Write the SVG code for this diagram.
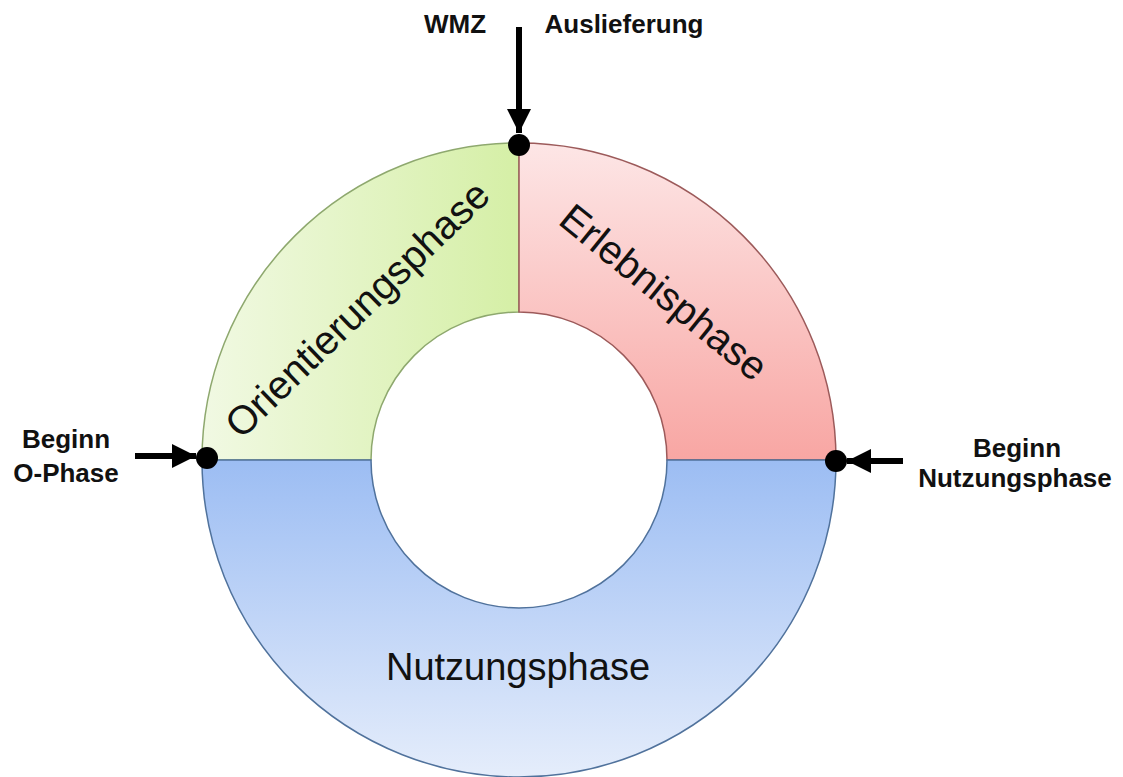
<svg xmlns="http://www.w3.org/2000/svg" width="1123" height="777" viewBox="0 0 1123 777">
<defs>
<linearGradient id="gGreen" x1="0" y1="0" x2="1" y2="0">
<stop offset="0" stop-color="#f1f9e3"/>
<stop offset="1" stop-color="#d5efa6"/>
</linearGradient>
<linearGradient id="gPink" x1="0" y1="0" x2="0" y2="1">
<stop offset="0" stop-color="#fde6e6"/>
<stop offset="1" stop-color="#f8a6a3"/>
</linearGradient>
<linearGradient id="gBlue" x1="0" y1="0" x2="0" y2="1">
<stop offset="0" stop-color="#9cbdf3"/>
<stop offset="1" stop-color="#e5edfb"/>
</linearGradient>
<marker id="ah" viewBox="0 0 10 10" refX="10" refY="5" markerWidth="4" markerHeight="4" orient="auto" markerUnits="strokeWidth">
<path d="M0,0 L10,5 L0,10 Z" fill="#000"/>
</marker>
</defs>
<style>
.lbl{font-family:"Liberation Sans",Arial,sans-serif;font-weight:bold;font-size:26px;fill:#111;text-anchor:middle}
.ph{font-family:"Liberation Sans",Arial,sans-serif;font-size:40px;fill:#111;text-anchor:middle}
.arr{stroke:#000;stroke-width:6;fill:none;marker-end:url(#ah)}
.dot{fill:#000}
</style>
<rect width="1123" height="777" fill="#fff"/>
<g id="orientierungsphase">
<path d="M 202 460 A 317 317 0 0 1 519 143 L 519 312 A 148 148 0 0 0 371 460 Z" fill="url(#gGreen)" stroke="#8ea86e" stroke-width="1.5"/>
<text class="ph" transform="translate(357,309) rotate(-44)" dy="14">Orientierungsphase</text>
</g>
<g id="erlebnisphase">
<path d="M 519 143 A 317 317 0 0 1 836 460 L 667 460 A 148 148 0 0 0 519 312 Z" fill="url(#gPink)" stroke="#9c5a5a" stroke-width="1.5"/>
<text class="ph" transform="translate(664,292) rotate(39)" dy="14">Erlebnisphase</text>
</g>
<g id="nutzungsphase">
<path d="M 202 460 L 371 460 A 148 148 0 0 0 667 460 L 836 460 A 317 317 0 0 1 202 460 Z" fill="url(#gBlue)" stroke="#50729c" stroke-width="1.5"/>
<text class="ph" x="518" y="680" style="font-size:38px">Nutzungsphase</text>
</g>
<g id="connectors">
<line class="arr" x1="519" y1="27" x2="519" y2="133"/>
<line class="arr" x1="135" y1="456" x2="196" y2="456"/>
<line class="arr" x1="903" y1="461" x2="847" y2="461"/>
</g>
<g id="markers">
<circle class="dot" cx="519" cy="145" r="11"/>
<circle class="dot" cx="207" cy="458" r="11"/>
<circle class="dot" cx="836" cy="461" r="11"/>
</g>
<g id="labels">
<text class="lbl" x="455" y="33">WMZ</text>
<text class="lbl" x="624" y="33">Auslieferung</text>
<text class="lbl" x="66" y="448">Beginn</text>
<text class="lbl" x="66" y="482">O-Phase</text>
<text class="lbl" x="1017" y="457">Beginn</text>
<text class="lbl" x="1015" y="487">Nutzungsphase</text>
</g>
</svg>
